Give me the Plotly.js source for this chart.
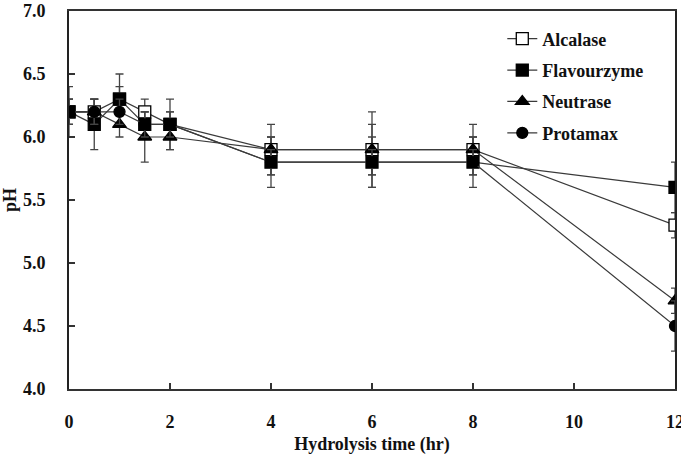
<!DOCTYPE html>
<html>
<head>
<meta charset="utf-8">
<script src="https://cdn.plot.ly/plotly-3.0.1.min.js"></script>
<style>html,body{margin:0;padding:0;background:#fff;}#chart{width:681px;height:455px;}</style>
</head>
<body>
<div id="chart"></div>
<script>
const time = [0, 0.5, 1, 1.5, 2, 4, 6, 8, 12];
const alcalase = [6.2, 6.2, 6.3, 6.2, 6.1, 5.9, 5.9, 5.9, 5.3];
const alcalaseErr = [0.1, 0.1, 0.1, 0.1, 0.1, 0.2, 0.2, 0.2, 0.1];
const flavourzyme = [6.2, 6.1, 6.3, 6.1, 6.1, 5.8, 5.8, 5.8, 5.6];
const flavourzymeErr = [0.2, 0.2, 0.2, 0.1, 0.2, 0.2, 0.2, 0.2, 0.2];
const neutrase = [6.2, 6.2, 6.1, 6.0, 6.0, 5.9, 5.9, 5.9, 4.7];
const neutraseErr = [0.1, 0.1, 0.1, 0.2, 0.1, 0.1, 0.3, 0.1, 0.1];
const protamax = [6.2, 6.2, 6.2, 6.1, 6.1, 5.8, 5.8, 5.8, 4.5];
const protamaxErr = [0.1, 0.1, 0.1, 0.1, 0.1, 0.1, 0.1, 0.1, 0.2];
const seriesNames = ["Alcalase", "Flavourzyme", "Neutrase", "Protamax"];
const xTicks = [0, 2, 4, 6, 8, 10, 12];
const yTicks = [4.0, 4.5, 5.0, 5.5, 6.0, 6.5, 7.0];

const FONT = "Liberation Serif";
function mk(name, y, err, symbol, fill, size, grp) {
  return {
    type: "scatter", mode: "lines+markers", name: name, x: time, y: y,
    legendgroup: grp,
    line: {color: "#3a3a3a", width: 1.2},
    marker: {symbol: symbol, size: size, color: fill, line: {color: "#000", width: 1.3}},
    error_y: {type: "data", array: err, visible: true, color: "#444", thickness: 1.3, width: 4}
  };
}
const data = [
  mk(seriesNames[0], alcalase, alcalaseErr, "square", "#fff", 12, "a"),
  mk(seriesNames[1], flavourzyme, flavourzymeErr, "square", "#000", 12, "b"),
  mk(seriesNames[2], neutrase, neutraseErr, "triangle-up", "#000", 12, "c"),
  mk(seriesNames[3], protamax, protamaxErr, "circle", "#000", 11, "d")
];
const layout = {
  width: 681, height: 455,
  margin: {l: 69, r: 6, t: 11, b: 66},
  paper_bgcolor: "#fff", plot_bgcolor: "#fff",
  font: {family: FONT, size: 17, color: "#111"},
  showlegend: true,
  legend: {
    x: 0.715, y: 0.975, xanchor: "left", yanchor: "top",
    bgcolor: "rgba(255,255,255,0)", borderwidth: 0,
    font: {family: FONT, size: 18, color: "#111", weight: "bold"},
    traceorder: "grouped", tracegroupgap: 5
  },
  xaxis: {
    range: [0, 12], tickvals: xTicks, ticktext: xTicks.map(String),
    ticks: "inside", ticklen: 6, tickwidth: 1.5, tickcolor: "#333",
    showline: true, linecolor: "#333", linewidth: 1.8, mirror: true,
    showgrid: false, zeroline: false,
    ticklabelstandoff: 16, ticklabeloverflow: "allow",
    tickfont: {family: FONT, size: 18, color: "#111", weight: "bold"},
    title: {text: "Hydrolysis time (hr)", font: {family: FONT, size: 18, color: "#111", weight: "bold"}, standoff: 20}
  },
  yaxis: {
    range: [4, 7], tickvals: yTicks, ticktext: yTicks.map(v => v.toFixed(1)),
    ticks: "inside", ticklen: 6, tickwidth: 1.5, tickcolor: "#333",
    showline: true, linecolor: "#222", linewidth: 1.8, mirror: true,
    showgrid: false, zeroline: false,
    ticklabelstandoff: 18,
    tickfont: {family: FONT, size: 18, color: "#111", weight: "bold"},
    title: {text: "pH", font: {family: FONT, size: 18, color: "#111", weight: "bold"}, standoff: 8}
  }
};
Plotly.newPlot("chart", data, layout, {displayModeBar: false, staticPlot: true});
</script>
</body>
</html>
